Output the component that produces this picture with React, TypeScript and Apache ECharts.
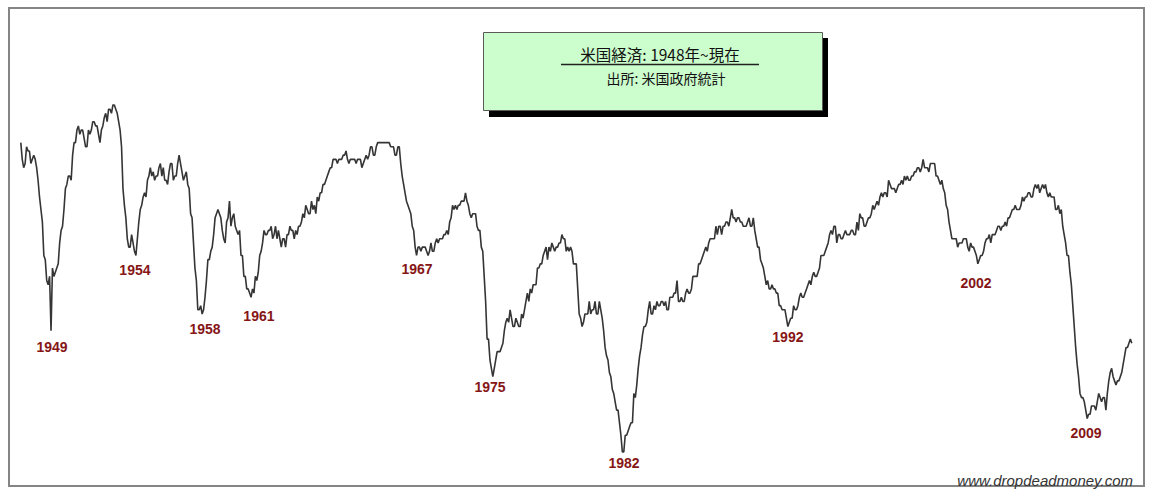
import React, { useEffect, useRef } from "react";
import * as echarts from "echarts";

// Monthly US unemployment rate (%), plotted inverted (economy strength)
const startYear = 1948;

const rates1940s = [
  3.4, 3.8, 4.0, 3.9, 3.5, 3.6, 3.6, 3.9, 3.8, 3.7, 3.8, 4.0,
  4.3, 4.7, 5.0, 5.3, 6.1, 6.2, 6.7, 6.8, 6.6, 7.9, 6.4, 6.6,
];

const rates1950s = [
  6.5, 6.4, 6.3, 5.8, 5.5, 5.4, 5.0, 4.5, 4.4, 4.2, 4.2, 4.3,
  3.7, 3.4, 3.4, 3.1, 3.0, 3.2, 3.1, 3.1, 3.3, 3.5, 3.5, 3.1,
  3.2, 3.1, 2.9, 2.9, 3.0, 3.0, 3.2, 3.4, 3.1, 3.0, 2.8, 2.7,
  2.9, 2.6, 2.6, 2.7, 2.5, 2.5, 2.6, 2.7, 2.9, 3.1, 3.5, 4.5,
  4.9, 5.2, 5.7, 5.9, 5.9, 5.6, 5.8, 6.0, 6.1, 5.7, 5.3, 5.0,
  4.9, 4.7, 4.6, 4.7, 4.3, 4.2, 4.0, 4.2, 4.1, 4.3, 4.2, 4.2,
  4.0, 3.9, 4.2, 4.0, 4.3, 4.3, 4.4, 4.1, 3.9, 3.9, 4.3, 4.2,
  4.2, 3.9, 3.7, 3.9, 4.1, 4.3, 4.2, 4.1, 4.4, 4.5, 5.1, 5.2,
  5.8, 6.4, 6.7, 7.4, 7.4, 7.3, 7.5, 7.4, 7.1, 6.7, 6.2, 6.2,
  6.0, 5.9, 5.6, 5.2, 5.1, 5.0, 5.1, 5.2, 5.5, 5.7, 5.8, 5.3,
];

const rates1960s = [
  5.2, 4.8, 5.4, 5.2, 5.1, 5.4, 5.5, 5.6, 5.5, 6.1, 6.1, 6.6,
  6.6, 6.9, 6.9, 7.0, 7.1, 6.9, 7.0, 6.6, 6.7, 6.5, 6.1, 6.0,
  5.8, 5.5, 5.6, 5.6, 5.5, 5.5, 5.4, 5.7, 5.6, 5.4, 5.7, 5.5,
  5.7, 5.9, 5.7, 5.7, 5.9, 5.6, 5.6, 5.4, 5.5, 5.5, 5.7, 5.5,
  5.6, 5.4, 5.4, 5.3, 5.1, 5.2, 4.9, 5.0, 5.1, 5.1, 4.8, 5.0,
  4.9, 5.1, 4.7, 4.8, 4.6, 4.6, 4.4, 4.4, 4.3, 4.2, 4.1, 4.0,
  4.0, 3.8, 3.8, 3.8, 3.9, 3.8, 3.8, 3.8, 3.7, 3.7, 3.6, 3.8,
  3.9, 3.8, 3.8, 3.8, 3.8, 3.9, 3.8, 3.8, 3.8, 4.0, 3.9, 3.8,
  3.7, 3.8, 3.7, 3.5, 3.5, 3.7, 3.7, 3.5, 3.4, 3.4, 3.4, 3.4,
  3.4, 3.4, 3.4, 3.4, 3.4, 3.5, 3.5, 3.5, 3.7, 3.7, 3.5, 3.5,
];

const rates1970s = [
  3.9, 4.2, 4.4, 4.6, 4.8, 4.9, 5.0, 5.1, 5.4, 5.5, 5.9, 6.1,
  5.9, 5.9, 6.0, 5.9, 5.9, 5.9, 6.0, 6.1, 6.0, 5.8, 6.0, 6.0,
  5.8, 5.7, 5.8, 5.7, 5.7, 5.7, 5.6, 5.6, 5.5, 5.6, 5.3, 5.2,
  4.9, 5.0, 4.9, 5.0, 4.9, 4.9, 4.8, 4.8, 4.8, 4.6, 4.8, 4.9,
  5.1, 5.2, 5.1, 5.1, 5.1, 5.4, 5.5, 5.5, 5.9, 6.0, 6.6, 7.2,
  8.1, 8.1, 8.6, 8.8, 9.0, 8.8, 8.6, 8.4, 8.4, 8.4, 8.3, 8.2,
  7.9, 7.7, 7.6, 7.7, 7.4, 7.6, 7.8, 7.8, 7.6, 7.7, 7.8, 7.8,
  7.5, 7.6, 7.4, 7.2, 7.0, 7.2, 6.9, 7.0, 6.8, 6.8, 6.8, 6.4,
  6.4, 6.3, 6.3, 6.1, 6.0, 5.9, 6.2, 5.9, 6.0, 5.8, 5.9, 6.0,
  5.9, 5.9, 5.8, 5.8, 5.6, 5.7, 5.7, 6.0, 5.9, 6.0, 5.9, 6.0,
];

const rates1980s = [
  6.3, 6.3, 6.3, 6.9, 7.5, 7.6, 7.8, 7.7, 7.5, 7.5, 7.5, 7.2,
  7.5, 7.4, 7.4, 7.2, 7.5, 7.5, 7.2, 7.4, 7.6, 7.9, 8.3, 8.5,
  8.6, 8.9, 9.0, 9.3, 9.4, 9.6, 9.8, 9.8, 10.1, 10.4, 10.8, 10.8,
  10.4, 10.4, 10.3, 10.2, 10.1, 10.1, 9.4, 9.5, 9.2, 8.8, 8.5, 8.3,
  8.0, 7.8, 7.8, 7.7, 7.4, 7.2, 7.5, 7.5, 7.3, 7.4, 7.2, 7.3,
  7.3, 7.2, 7.2, 7.3, 7.2, 7.4, 7.4, 7.1, 7.1, 7.1, 7.0, 7.0,
  6.7, 7.2, 7.2, 7.1, 7.2, 7.2, 7.0, 6.9, 7.0, 7.0, 6.9, 6.6,
  6.6, 6.6, 6.6, 6.3, 6.3, 6.2, 6.1, 6.0, 5.9, 6.0, 5.8, 5.7,
  5.7, 5.7, 5.7, 5.4, 5.6, 5.4, 5.4, 5.6, 5.4, 5.4, 5.3, 5.3,
  5.4, 5.2, 5.0, 5.2, 5.2, 5.3, 5.2, 5.2, 5.3, 5.3, 5.4, 5.4,
];

const rates1990s = [
  5.4, 5.3, 5.2, 5.4, 5.4, 5.2, 5.5, 5.7, 5.9, 5.9, 6.2, 6.3,
  6.4, 6.6, 6.8, 6.7, 6.9, 6.9, 6.8, 6.9, 6.9, 7.0, 7.0, 7.3,
  7.3, 7.4, 7.4, 7.4, 7.6, 7.8, 7.7, 7.6, 7.6, 7.3, 7.4, 7.4,
  7.3, 7.1, 7.0, 7.1, 7.1, 7.0, 6.9, 6.8, 6.7, 6.8, 6.6, 6.5,
  6.6, 6.6, 6.5, 6.4, 6.1, 6.1, 6.1, 6.0, 5.9, 5.8, 5.6, 5.5,
  5.6, 5.4, 5.4, 5.8, 5.6, 5.6, 5.7, 5.7, 5.6, 5.5, 5.6, 5.6,
  5.6, 5.5, 5.5, 5.6, 5.6, 5.3, 5.5, 5.1, 5.2, 5.2, 5.4, 5.4,
  5.3, 5.2, 5.2, 5.1, 4.9, 5.0, 4.9, 4.8, 4.9, 4.7, 4.6, 4.7,
  4.6, 4.6, 4.7, 4.3, 4.4, 4.5, 4.5, 4.5, 4.6, 4.5, 4.4, 4.4,
  4.3, 4.4, 4.2, 4.3, 4.2, 4.3, 4.3, 4.2, 4.2, 4.1, 4.1, 4.0,
];

const rates2000s = [
  4.0, 4.1, 4.0, 3.8, 4.0, 4.0, 4.0, 4.1, 3.9, 3.9, 3.9, 3.9,
  4.2, 4.2, 4.3, 4.4, 4.3, 4.5, 4.6, 4.9, 5.0, 5.3, 5.5, 5.7,
  5.7, 5.7, 5.7, 5.9, 5.8, 5.8, 5.8, 5.7, 5.7, 5.7, 5.9, 6.0,
  5.8, 5.9, 5.9, 6.0, 6.1, 6.3, 6.2, 6.1, 6.1, 6.0, 5.8, 5.7,
  5.7, 5.6, 5.8, 5.6, 5.6, 5.6, 5.5, 5.4, 5.4, 5.5, 5.4, 5.4,
  5.3, 5.4, 5.2, 5.2, 5.1, 5.0, 5.0, 4.9, 5.0, 5.0, 5.0, 4.9,
  4.7, 4.8, 4.7, 4.7, 4.6, 4.6, 4.7, 4.7, 4.5, 4.4, 4.5, 4.4,
  4.6, 4.5, 4.4, 4.5, 4.4, 4.6, 4.7, 4.6, 4.7, 4.7, 4.7, 5.0,
  5.0, 4.9, 5.1, 5.0, 5.4, 5.6, 5.8, 6.1, 6.1, 6.5, 6.8, 7.3,
  7.8, 8.3, 8.7, 9.0, 9.4, 9.5, 9.5, 9.6, 9.8, 10.0, 9.9, 9.9,
];

const rates2010s = [
  9.7, 9.7, 9.7, 9.8, 9.6, 9.4, 9.5, 9.6, 9.5, 9.5, 9.8, 9.4,
  9.1, 8.9, 8.8, 9.0, 9.1, 9.2, 9.1, 9.1, 9.0, 8.9, 8.7, 8.5,
  8.3, 8.3, 8.2, 8.1, 8.2,
];

// Annotated recession years and where their labels sit (decimal year, rate %)
const troughLabels = ["1949", "1954", "1958", "1961", "1967", "1975", "1982", "1992", "2002", "2009"];
const labelYears = [1949.81, 1954.61, 1958.67, 1961.79, 1970.94, 1975.17, 1982.93, 1992.42, 2003.31, 2009.68];
const labelRates = [8.29, 6.45, 7.86, 7.55, 6.42, 9.25, 11.06, 8.05, 6.76, 10.35];

const titleText = "米国経済: 1948年~現在";
const subtitleText = "出所: 米国政府統計";
const watermarkText = "www.dropdeadmoney.com";

const allRates = [
  ...rates1940s, ...rates1950s, ...rates1960s, ...rates1970s,
  ...rates1980s, ...rates1990s, ...rates2000s, ...rates2010s,
];

export default function App() {
  const ref = useRef<HTMLDivElement>(null);

  useEffect(() => {
    if (!ref.current) return;
    const chart = echarts.init(ref.current, null, { renderer: "svg" });

    const lineData = allRates.map((r, i) => [startYear + i / 12, r]);
    const xMax = startYear + (allRates.length - 1) / 12;
    const labelData = troughLabels.map((t, i) => [labelYears[i], labelRates[i], t]);

    const pxPerPct = 41.8;
    const yMin = 2;
    const yMax = 11.5;
    const gridTop = 105 - (2.5 - yMin) * pxPerPct;
    const gridHeight = (yMax - yMin) * pxPerPct;

    chart.setOption({
      animation: false,
      backgroundColor: "#ffffff",
      grid: { left: 20.8, top: gridTop, width: 1111, height: gridHeight },
      xAxis: {
        type: "value",
        min: startYear,
        max: xMax,
        show: false,
        splitLine: { show: false },
      },
      yAxis: {
        type: "value",
        min: yMin,
        max: yMax,
        inverse: true,
        show: false,
        splitLine: { show: false },
      },
      series: [
        {
          type: "line",
          data: lineData,
          showSymbol: false,
          symbol: "none",
          clip: false,
          lineStyle: { color: "#353535", width: 1.6 },
          z: 2,
        },
        {
          type: "scatter",
          data: labelData,
          symbolSize: 1,
          itemStyle: { color: "rgba(0,0,0,0)", opacity: 1 },
          label: {
            show: true,
            position: "inside",
            formatter: (p: any) => p.value[2],
            color: "#861616",
            fontFamily: "'Liberation Sans', Arial, sans-serif",
            fontWeight: "bold",
            fontSize: 14,
          },
          emphasis: { disabled: true },
          z: 3,
        },
      ],
      graphic: [
        {
          type: "rect",
          shape: { x: 9, y: 8, width: 1135, height: 478 },
          style: { fill: "none", stroke: "#858585", lineWidth: 2 },
          z: 1,
        },
        {
          type: "rect",
          shape: { x: 489, y: 38, width: 339, height: 79 },
          style: { fill: "#000000" },
          z: 5,
        },
        {
          type: "rect",
          shape: { x: 483.5, y: 32.5, width: 339, height: 78 },
          style: { fill: "#ccfdcc", stroke: "#5a5a5a", lineWidth: 1 },
          z: 6,
        },
        {
          type: "text",
          x: 660,
          y: 54,
          style: {
            text: titleText,
            fill: "#111111",
            font: "15.5px 'Noto Sans CJK JP', sans-serif",
            textAlign: "center",
            textVerticalAlign: "middle",
          },
          z: 7,
        },
        {
          type: "line",
          shape: { x1: 561, y1: 64.5, x2: 759, y2: 64.5 },
          style: { stroke: "#222222", lineWidth: 1.5 },
          z: 7,
        },
        {
          type: "text",
          x: 666,
          y: 78,
          style: {
            text: subtitleText,
            fill: "#111111",
            font: "14px 'Noto Sans CJK JP', sans-serif",
            textAlign: "center",
            textVerticalAlign: "middle",
          },
          z: 7,
        },
        {
          type: "text",
          x: 1133,
          y: 480,
          style: {
            text: watermarkText,
            fill: "#333333",
            font: "italic 15px 'Liberation Sans', Arial, sans-serif",
            textAlign: "right",
            textVerticalAlign: "middle",
          },
          z: 7,
        },
      ],
    });

    return () => chart.dispose();
  }, []);

  return (
    <div
      ref={ref}
      style={{ position: "absolute", left: 0, top: 0, width: 1156, height: 497 }}
    />
  );
}
